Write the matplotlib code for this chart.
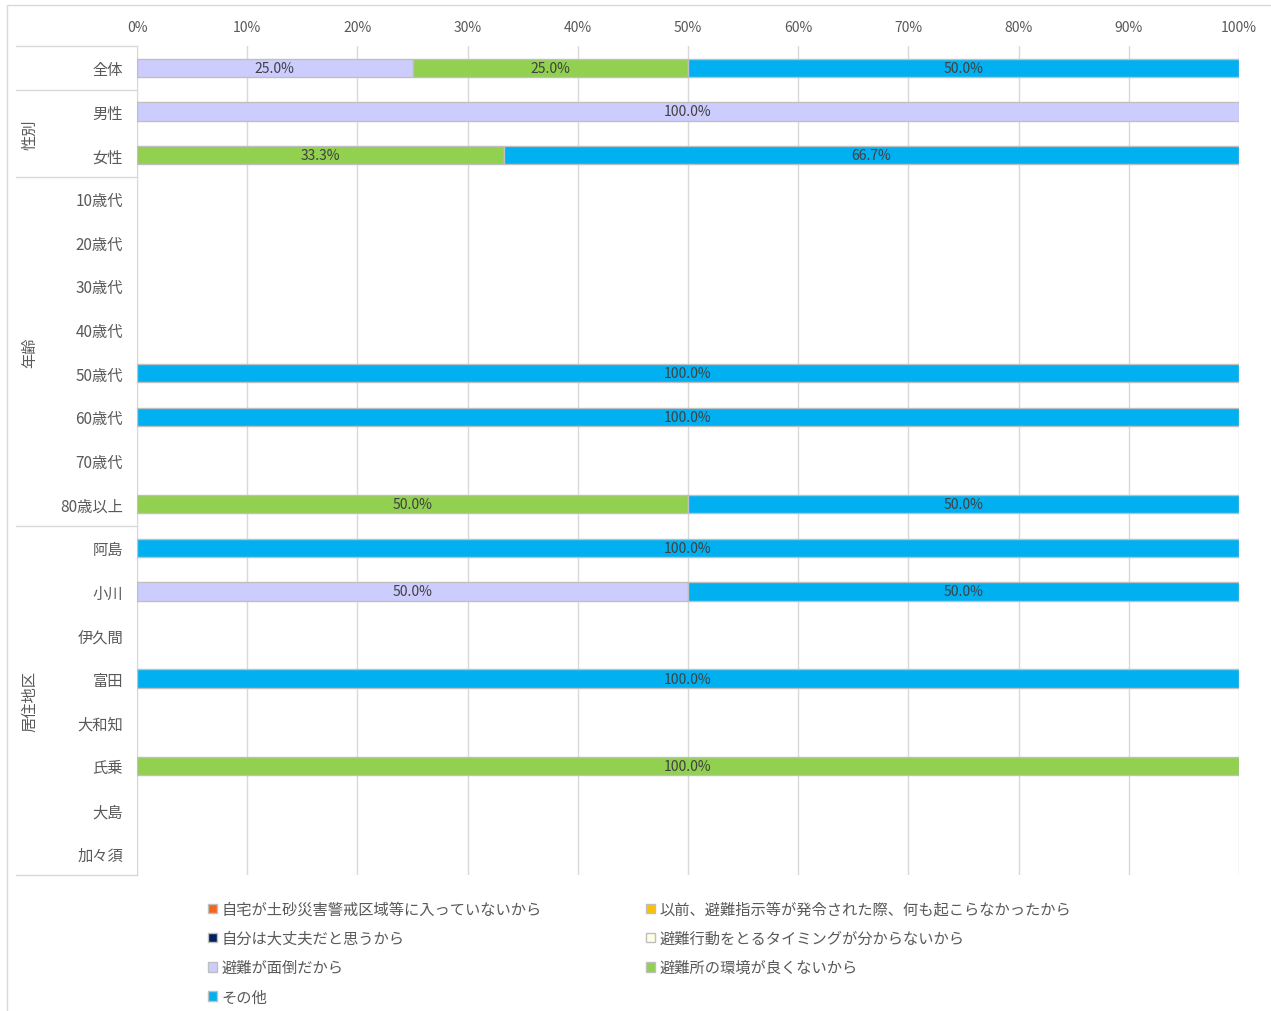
import numpy as np
import matplotlib
matplotlib.use("Agg")
import matplotlib.pyplot as plt
from matplotlib.patches import Patch, Rectangle
from matplotlib.lines import Line2D
from matplotlib.transforms import blended_transform_factory

plt.rcParams["font.family"] = ["Noto Sans CJK JP", "DejaVu Sans"]

# categories (top to bottom)
categories = ["全体", "男性", "女性",
              "10歳代", "20歳代", "30歳代", "40歳代", "50歳代", "60歳代", "70歳代", "80歳以上",
              "阿島", "小川", "伊久間", "富田", "大和知", "氏乗", "大島", "加々須"]
groups = [("性別", 1, 2), ("年齢", 3, 10), ("居住地区", 11, 18)]

series_names = ["自宅が土砂災害警戒区域等に入っていないから",
                "以前、避難指示等が発令された際、何も起こらなかったから",
                "自分は大丈夫だと思うから",
                "避難行動をとるタイミングが分からないから",
                "避難が面倒だから",
                "避難所の環境が良くないから",
                "その他"]
colors = ["#F4661B", "#FFC000", "#002060", "#FFFFE5", "#CCCCFF", "#92D050", "#00B0F0"]

jitaku  = [0, 0, 0, 0, 0, 0, 0, 0, 0, 0, 0, 0, 0, 0, 0, 0, 0, 0, 0]
izen    = [0, 0, 0, 0, 0, 0, 0, 0, 0, 0, 0, 0, 0, 0, 0, 0, 0, 0, 0]
jibun   = [0, 0, 0, 0, 0, 0, 0, 0, 0, 0, 0, 0, 0, 0, 0, 0, 0, 0, 0]
timing  = [0, 0, 0, 0, 0, 0, 0, 0, 0, 0, 0, 0, 0, 0, 0, 0, 0, 0, 0]
mendou  = [25.0, 100.0, 0, 0, 0, 0, 0, 0, 0, 0, 0, 0, 50.0, 0, 0, 0, 0, 0, 0]
kankyou = [25.0, 0, 33.3, 0, 0, 0, 0, 0, 0, 0, 50.0, 0, 0, 0, 0, 0, 100.0, 0, 0]
sonota  = [50.0, 0, 66.7, 0, 0, 0, 0, 100.0, 100.0, 0, 50.0, 100.0, 50.0, 0, 100.0, 0, 0, 0, 0]
series = [jitaku, izen, jibun, timing, mendou, kankyou, sonota]

W, H = 1271, 1012
fig = plt.figure(figsize=(W / 100, H / 100), dpi=100)
ax = fig.add_axes([137 / W, 1 - 876 / H, (1239 - 137) / W, (876 - 47) / H])

# outer frame
fig.add_artist(Rectangle((7 / W, -0.01), 1.0, 1 - 6 / H + 0.01, transform=fig.transFigure,
                         fill=False, edgecolor="#D9D9D9", linewidth=1))

y = np.arange(len(categories))
left = np.zeros(len(categories))
for name, vals, col in zip(series_names, series, colors):
    vals = np.array(vals, dtype=float)
    m = vals > 0
    if m.any():
        bars = ax.barh(y[m], vals[m], left=left[m], height=0.42, color=col,
                       edgecolor="#BFBFBF", linewidth=1, zorder=3)
        for b, v in zip(bars, vals[m]):
            ax.text(b.get_x() + b.get_width() / 2, b.get_y() + b.get_height() / 2,
                    f"{v:.1f}%", ha="center", va="center", fontsize=10,
                    color="#404040", zorder=4)
    left += vals

ax.set_xlim(0, 100)
ax.set_ylim(len(categories) - 0.5, -0.5)
ax.set_xticks(np.arange(0, 101, 10))
ax.set_xticklabels([f"{t}%" for t in range(0, 101, 10)], fontsize=10, color="#595959")
ax.xaxis.tick_top()
ax.tick_params(axis="x", length=0, pad=9)
ax.set_yticks(y)
ax.set_yticklabels(categories, fontsize=11, color="#595959")
ax.tick_params(axis="y", length=0, pad=10)
ax.grid(axis="x", color="#D9D9D9", linewidth=1, zorder=0)
for s in ["top", "right", "bottom"]:
    ax.spines[s].set_visible(False)
ax.spines["left"].set_color("#D9D9D9")

# group separators and group labels
tr = blended_transform_factory(fig.transFigure, ax.transData)
for yy in [-0.5, 0.5, 2.5, 10.5, 18.5]:
    fig.add_artist(Line2D([16 / W, 137 / W], [yy, yy], transform=tr,
                          color="#D9D9D9", linewidth=1))
for label, a, b in groups:
    fig.text(30 / W, (a + b) / 2, label, transform=tr, rotation=90,
             ha="center", va="center", fontsize=11, color="#595959")

# legend (row-major order)
order = [0, 2, 4, 6, 1, 3, 5]
handles = [Patch(facecolor=colors[i], edgecolor="#BFBFBF", linewidth=1) for i in order]
labels = [series_names[i] for i in order]
fig.legend(handles, labels, loc="upper left", bbox_to_anchor=(194 / W, 1 - 888 / H),
           ncol=2, frameon=False, fontsize=11, handlelength=0.6, handleheight=0.6,
           handletextpad=0.3, columnspacing=6.8, labelspacing=0.8,
           labelcolor="#595959")

fig.savefig("out.png", dpi=100)
